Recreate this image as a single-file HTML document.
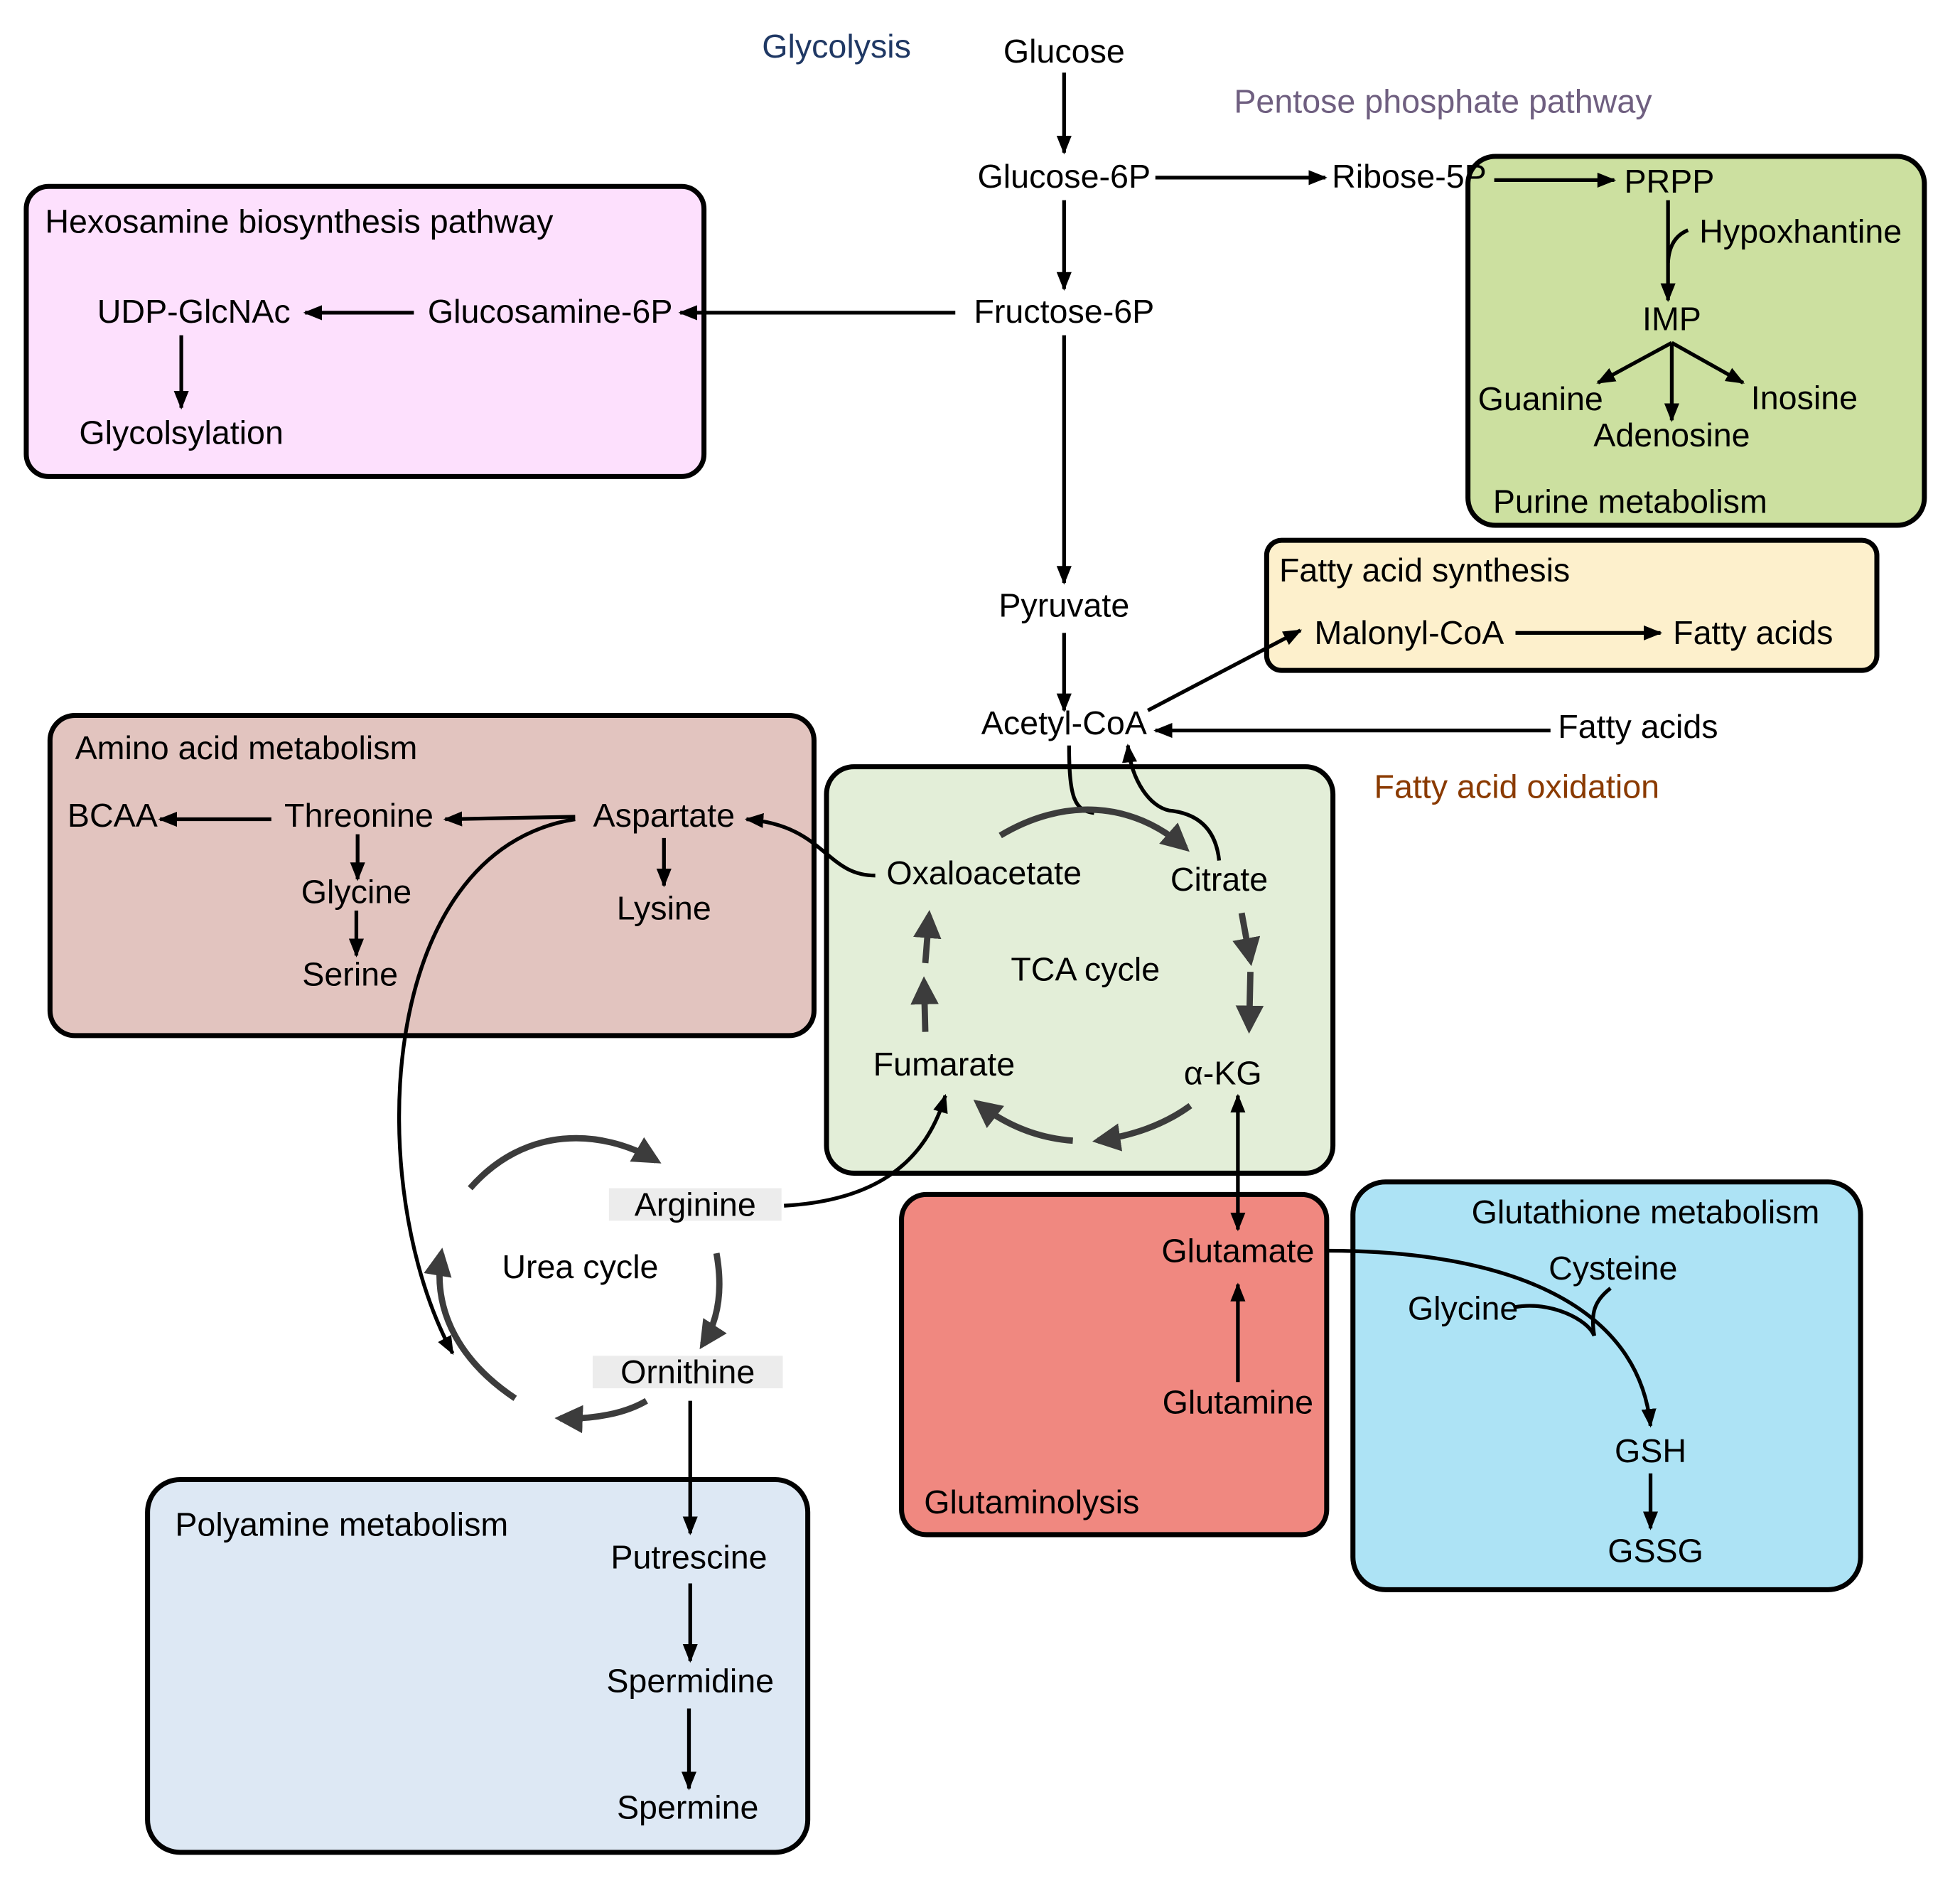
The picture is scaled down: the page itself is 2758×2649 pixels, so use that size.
<!DOCTYPE html>
<html><head><meta charset="utf-8"><style>
html,body{margin:0;padding:0;background:#fff}
svg{display:block}
text{font-family:"Liberation Sans","DejaVu Sans",sans-serif;font-size:26.5px;fill:#000;text-anchor:middle}
.l{text-anchor:start}
.ln{stroke:#000;stroke-width:3;fill:none}
.g{stroke:#3c3c3c;stroke-width:5;fill:none}
</style></head><body>
<svg width="2758" height="2649" viewBox="0 0 1567.5 1505.5" xmlns="http://www.w3.org/2000/svg">
<defs>
<marker id="a" viewBox="0 0 10 10" refX="9" refY="5" markerWidth="5" markerHeight="5" orient="auto-start-reverse" markerUnits="strokeWidth"><path d="M0,1 L10,5 L0,9 z" fill="#000"/></marker>
<marker id="b" viewBox="0 0 10 10" refX="8" refY="5" markerWidth="4.5" markerHeight="4.5" orient="auto" markerUnits="strokeWidth"><path d="M0,0 L10,5 L0,10 z" fill="#3c3c3c"/></marker>
</defs>
<rect x="21" y="149" width="542" height="232" rx="18" fill="#fde0fd" stroke="#000" stroke-width="4"/>
<rect x="1174" y="125" width="365" height="295" rx="22" fill="#cce0a0" stroke="#000" stroke-width="4"/>
<rect x="1013" y="432" width="488" height="104" rx="12" fill="#fdf0cc" stroke="#000" stroke-width="4"/>
<rect x="40" y="572" width="611" height="256" rx="20" fill="#e2c4bf" stroke="#000" stroke-width="4"/>
<rect x="661" y="613" width="405" height="325" rx="22" fill="#e3eed8" stroke="#000" stroke-width="4"/>
<rect x="721" y="955" width="340" height="272" rx="20" fill="#f08880" stroke="#000" stroke-width="4"/>
<rect x="1082" y="945" width="406" height="326" rx="26" fill="#ade3f5" stroke="#000" stroke-width="4"/>
<rect x="118" y="1183" width="528" height="298" rx="26" fill="#dde8f4" stroke="#000" stroke-width="4"/>
<rect x="487" y="950" width="138" height="26" fill="#ececec"/>
<rect x="474" y="1084" width="152" height="26" fill="#ececec"/>

<text x="669" y="46" style="fill:#1f3864">Glycolysis</text>
<text x="1154" y="90" style="fill:#6f5f80">Pentose phosphate pathway</text>
<text x="1213" y="638" style="fill:#8a3a00">Fatty acid oxidation</text>
<text x="851" y="50">Glucose</text>
<text x="851" y="150">Glucose-6P</text>
<text x="1127" y="150">Ribose-5P</text>
<text x="851" y="258">Fructose-6P</text>
<text x="851" y="493">Pyruvate</text>
<text x="851" y="587">Acetyl-CoA</text>
<text x="1310" y="590">Fatty acids</text>
<text x="36" y="186" class="l">Hexosamine biosynthesis pathway</text>
<text x="155" y="258">UDP-GlcNAc</text>
<text x="440" y="258">Glucosamine-6P</text>
<text x="145" y="355">Glycolsylation</text>
<text x="1335" y="154">PRPP</text>
<text x="1440" y="194">Hypoxhantine</text>
<text x="1337" y="264">IMP</text>
<text x="1232" y="328">Guanine</text>
<text x="1443" y="327">Inosine</text>
<text x="1337" y="357">Adenosine</text>
<text x="1194" y="410" class="l">Purine metabolism</text>
<text x="1023" y="465" class="l">Fatty acid synthesis</text>
<text x="1127" y="515">Malonyl-CoA</text>
<text x="1402" y="515">Fatty acids</text>
<text x="60" y="607" class="l">Amino acid metabolism</text>
<text x="90" y="661">BCAA</text>
<text x="287" y="661">Threonine</text>
<text x="531" y="661">Aspartate</text>
<text x="285" y="722">Glycine</text>
<text x="531" y="735">Lysine</text>
<text x="280" y="788">Serine</text>
<text x="787" y="707">Oxaloacetate</text>
<text x="975" y="712">Citrate</text>
<text x="868" y="784">TCA cycle</text>
<text x="755" y="860">Fumarate</text>
<text x="978" y="867">α-KG</text>
<text x="556" y="972">Arginine</text>
<text x="464" y="1022">Urea cycle</text>
<text x="550" y="1106">Ornithine</text>
<text x="990" y="1009">Glutamate</text>
<text x="990" y="1130">Glutamine</text>
<text x="739" y="1210" class="l">Glutaminolysis</text>
<text x="1316" y="978">Glutathione metabolism</text>
<text x="1290" y="1023">Cysteine</text>
<text x="1170" y="1055">Glycine</text>
<text x="1320" y="1169">GSH</text>
<text x="1324" y="1249">GSSG</text>
<text x="140" y="1228" class="l">Polyamine metabolism</text>
<text x="551" y="1254">Putrescine</text>
<text x="552" y="1353">Spermidine</text>
<text x="550" y="1454">Spermine</text>

<path class="ln" marker-end="url(#a)" d="M851 58 V122"/>
<path class="ln" marker-end="url(#a)" d="M924 142 H1060"/>
<path class="ln" marker-end="url(#a)" d="M1195 144 H1291"/>
<path class="ln" marker-end="url(#a)" d="M851 160 V231"/>
<path class="ln" marker-end="url(#a)" d="M764 250 H544"/>
<path class="ln" marker-end="url(#a)" d="M331 250 H244"/>
<path class="ln" marker-end="url(#a)" d="M145 268 V326"/>
<path class="ln" marker-end="url(#a)" d="M851 268 V466"/>
<path class="ln" marker-end="url(#a)" d="M851 506 V568"/>
<path class="ln" marker-end="url(#a)" d="M1240 584 H924"/>
<path class="ln" marker-end="url(#a)" d="M918 568 L1040 504"/>
<path class="ln" marker-end="url(#a)" d="M1212 506 H1328"/>
<path class="ln" marker-end="url(#a)" d="M1334 160 V240"/>
<path class="ln" d="M1350 184 Q1335 190 1334 210"/>
<path class="ln" marker-end="url(#a)" d="M1337 274 L1278 306"/>
<path class="ln" marker-end="url(#a)" d="M1337 274 V336"/>
<path class="ln" marker-end="url(#a)" d="M1337 274 L1394 306"/>
<path class="ln" marker-end="url(#a)" d="M217 655 H128"/>
<path class="ln" marker-end="url(#a)" d="M460 653 L356 655"/>
<path class="ln" marker-end="url(#a)" d="M531 670 V708"/>
<path class="ln" marker-end="url(#a)" d="M286 667 V703"/>
<path class="ln" marker-end="url(#a)" d="M285 728 V764"/>
<path class="ln" marker-end="url(#a)" d="M700 700 C660 700 660 660 597 655"/>
<path class="ln" marker-end="url(#a)" d="M460 655 C300 680 290 950 362 1082"/>
<path class="ln" d="M855 596 C855 640 860 648 875 650"/>
<path class="ln" marker-end="url(#a)" d="M975 688 C972 660 955 650 935 648 C920 645 905 625 902 596"/>
<path class="ln" marker-end="url(#a)" d="M627 964 C700 960 740 930 756 876"/>
<path class="ln" marker-end="url(#a)" marker-start="url(#a)" d="M990 876 V983"/>
<path class="ln" marker-end="url(#a)" d="M990 1105 V1027"/>
<path class="ln" marker-end="url(#a)" d="M1062 1000 C1200 1000 1310 1040 1320 1140"/>
<path class="ln" d="M1212 1045 C1240 1040 1270 1055 1275 1068"/>
<path class="ln" d="M1288 1030 C1275 1040 1272 1050 1275 1068"/>
<path class="ln" marker-end="url(#a)" d="M1320 1178 V1222"/>
<path class="ln" marker-end="url(#a)" d="M552 1120 V1226"/>
<path class="ln" marker-end="url(#a)" d="M552 1266 V1328"/>
<path class="ln" marker-end="url(#a)" d="M551 1366 V1430"/>

<path class="g" marker-end="url(#b)" d="M800 668 C850 638 905 640 948 678"/>
<path class="g" marker-end="url(#b)" d="M993 730 L1000 768"/>
<path class="g" marker-end="url(#b)" d="M1000 777 L999 822"/>
<path class="g" marker-end="url(#b)" d="M952 884 C930 900 905 908 878 912"/>
<path class="g" marker-end="url(#b)" d="M858 912 C830 910 805 900 782 882"/>
<path class="g" marker-end="url(#b)" d="M740 825 L739 785"/>
<path class="g" marker-end="url(#b)" d="M740 770 L743 732"/>
<path class="g" marker-end="url(#b)" d="M376 950 C420 900 480 902 525 928"/>
<path class="g" marker-end="url(#b)" d="M573 1002 C578 1030 575 1055 562 1075"/>
<path class="g" marker-end="url(#b)" d="M517 1120 C500 1130 475 1135 448 1134"/>
<path class="g" marker-end="url(#b)" d="M412 1118 C370 1090 345 1050 353 1002"/>
</svg>
</body></html>
